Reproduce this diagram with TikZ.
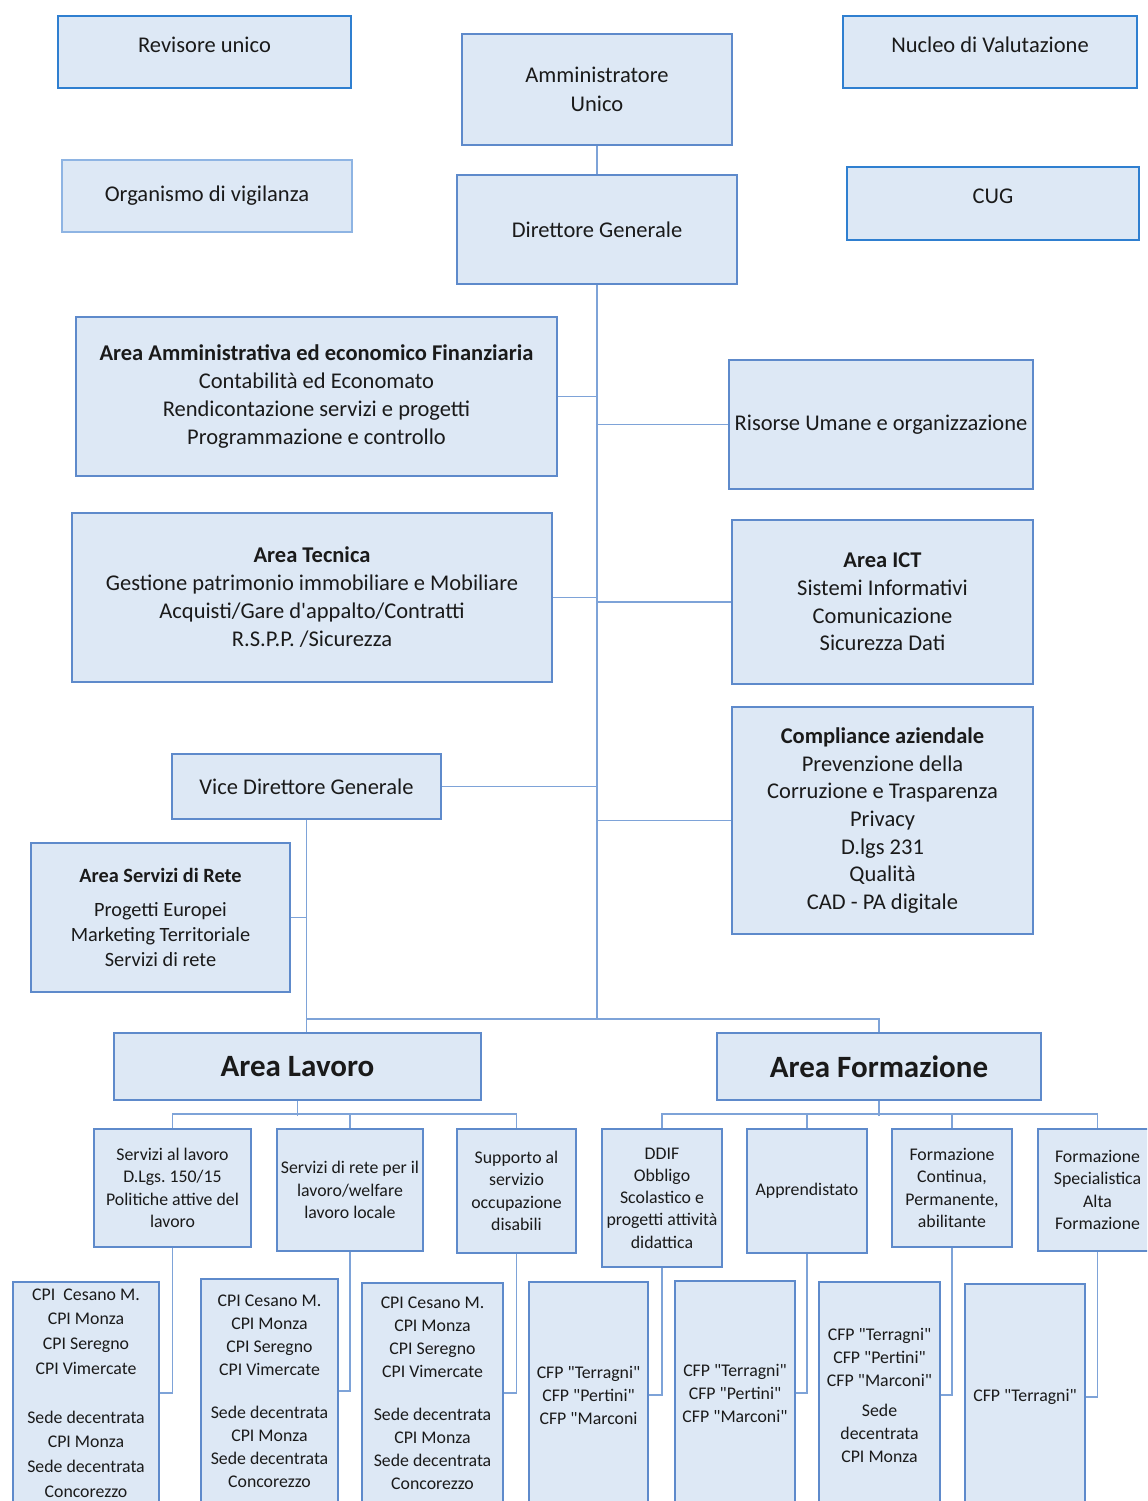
\documentclass[tikz,border=0pt]{standalone}
\usepackage{fontspec}
\setmainfont{Carlito}[Ligatures=TeXOff]
\definecolor{boxfill}{HTML}{DDE8F5}
\definecolor{bord}{HTML}{5E8ACB}
\definecolor{lin}{HTML}{7EA3D8}
\definecolor{bordB}{HTML}{2F7FD0}
\definecolor{bordL}{HTML}{8EB4E3}
\definecolor{txt}{HTML}{1A1A1A}
\newcommand{\fMain}{\fontsize{22.5bp}{28bp}\selectfont}
\newcommand{\fRete}{\fontsize{20.3bp}{25bp}\selectfont}
\newcommand{\fBig}{\fontsize{31bp}{36bp}\selectfont\bfseries}
\newcommand{\fSmall}{\fontsize{17.8bp}{22.3bp}\selectfont}
\newcommand{\fCpiA}{\fontsize{17.8bp}{24.6bp}\selectfont}
\newcommand{\fCpiB}{\fontsize{17.8bp}{23bp}\selectfont}
\tikzset{
  box/.style={draw=bord, fill=boxfill, line width=1.8bp, inner sep=0pt, align=center, text=txt, font=\fMain},
  lbl/.style={inner sep=0pt, align=center, text=txt, font=\fMain},
  conn/.style={draw=lin, line width=1.8bp},
  sz/.style 2 args={minimum width=#1 bp, minimum height=#2 bp},
}
\begin{document}
\frenchspacing
\begin{tikzpicture}[x=1bp, y=-1bp]
\useasboundingbox (0,0) rectangle (1147,1501);
\fill[white] (0,0) rectangle (1147,1501);
\clip (0,0) rectangle (1147,1501);

% top level
\node[box, draw=bordB, sz={293}{72}] (rev) at (204.5,52) {};
\node[lbl] (revt) at (204.5,45) {Revisore unico};
\node[box, draw=bordL, sz={290}{72}] (org) at (207,196) {Organismo di vigilanza};
\node[box, sz={270}{111}, font=\fontsize{22.5bp}{29bp}\selectfont] (amm) at (597,89.5) {Amministratore\\Unico};
\node[box, sz={280}{109}] (dg) at (597,229.5) {Direttore Generale};
\node[box, draw=bordB, sz={294}{72}] (nuc) at (990,52) {};
\node[lbl] (nuct) at (990,45) {Nucleo di Valutazione};
\node[box, draw=bordB, sz={292}{73}] (cug) at (993,203.5) {};
\node[lbl] (cugt) at (993,196) {CUG};

% second level
\node[box, sz={481}{159}] (aaf) at (316.5,396.5) {{\bfseries Area Amministrativa ed economico Finanziaria}\\Contabilità ed Economato\\Rendicontazione servizi e progetti\\Programmazione e controllo};
\node[box, sz={304}{129}] (ris) at (881,424.5) {Risorse Umane e organizzazione};
\node[box, sz={480}{169}] (tec) at (312,597.5) {{\bfseries Area Tecnica}\\Gestione patrimonio immobiliare e Mobiliare\\Acquisti/Gare d'appalto/Contratti\\R.S.P.P. /Sicurezza};
\node[box, sz={301}{164}, font=\fontsize{22.5bp}{27.7bp}\selectfont] (ict) at (882.5,602) {{\bfseries Area ICT}\\Sistemi Informativi\\Comunicazione\\Sicurezza Dati};
\node[box, sz={301}{227}, font=\fontsize{22.5bp}{27.7bp}\selectfont] (comp) at (882.5,820.5) {{\bfseries Compliance aziendale}\\Prevenzione della\\Corruzione e Trasparenza\\Privacy\\D.lgs 231\\Qualità\\CAD - PA digitale};
\node[box, sz={269}{65}] (vdg) at (306.5,786.5) {Vice Direttore Generale};
\node[box, sz={259}{149}, font=\fRete] (asr) at (160.5,917.5) {{\bfseries Area Servizi di Rete}\\[9bp]Progetti Europei\\Marketing Territoriale\\Servizi di rete};
\node[box, sz={367}{67}, font=\fBig] (lav) at (297.5,1066.5) {Area Lavoro};
\node[box, sz={324}{67}, font=\fBig] (form) at (879,1066.5) {Area Formazione};

% third level
\node[box, sz={157}{118}, font=\fSmall] (sl) at (172.5,1188) {Servizi al lavoro\\D.Lgs. 150/15\\Politiche attive del\\lavoro};
\node[box, sz={146}{122}, font=\fSmall] (sr) at (350,1190) {Servizi di rete per il\\lavoro/welfare\\lavoro locale};
\node[box, sz={119}{124}, font=\fSmall] (sup) at (516.5,1191) {Supporto al\\servizio\\occupazione\\disabili};
\node[box, sz={120}{138}, font=\fSmall] (ddif) at (662,1198) {DDIF\\Obbligo\\Scolastico e\\progetti attività\\didattica};
\node[box, sz={120}{124}, font=\fSmall] (app) at (807,1191) {Apprendistato};
\node[box, sz={120}{118}, font=\fSmall] (fc) at (952,1188) {Formazione\\Continua,\\Permanente,\\abilitante};
\node[box, sz={119}{122}, font=\fSmall] (fs) at (1097.5,1190) {Formazione\\Specialistica\\Alta\\Formazione};

% fourth level
\node[box, sz={146}{222}, font=\fCpiA] (c1) at (86,1393) {CPI\ \ Cesano M.\\CPI Monza\\CPI Seregno\\CPI Vimercate\\[24.6bp]Sede decentrata\\CPI Monza\\Sede decentrata\\Concorezzo};
\node[box, sz={137}{224}, font=\fCpiB] (c2) at (269.5,1391) {CPI Cesano M.\\CPI Monza\\CPI Seregno\\CPI Vimercate\\[20bp]Sede decentrata\\CPI Monza\\Sede decentrata\\Concorezzo};
\node[box, sz={141}{220}, font=\fCpiB] (c3) at (432.5,1393) {CPI Cesano M.\\CPI Monza\\CPI Seregno\\CPI Vimercate\\[20bp]Sede decentrata\\CPI Monza\\Sede decentrata\\Concorezzo};
\node[box, sz={119}{226}, font=\fCpiB] (c4) at (588.5,1395) {CFP "Terragni"\\CFP "Pertini"\\CFP "Marconi};
\node[box, sz={120}{224}, font=\fCpiB] (c5) at (735,1393) {CFP "Terragni"\\CFP "Pertini"\\CFP "Marconi"};
\node[box, sz={121}{226}, font=\fCpiB] (c6) at (879.5,1395) {CFP "Terragni"\\CFP "Pertini"\\CFP "Marconi"\\[7bp]Sede\\decentrata\\CPI Monza};
\node[box, sz={120}{226}, font=\fCpiB] (c7) at (1025,1397) {CFP "Terragni"};

% connectors
\coordinate (j) at (597,1019);
\draw[conn] (amm.south) -- (dg.north);
\draw[conn] (dg.south) -- (j);
\draw[conn] (aaf.east) -- (aaf.east -| dg.south);
\draw[conn] (ris.west) -- (ris.west -| dg.south);
\draw[conn] (tec.east) -- (tec.east -| dg.south);
\draw[conn] (ict.west) -- (ict.west -| dg.south);
\draw[conn] (vdg.east) -- (vdg.east -| dg.south);
\draw[conn] (comp.west) -- (comp.west -| dg.south);
\draw[conn] (vdg.south) -- (vdg.south |- lav.north);
\draw[conn] (asr.east) -- (asr.east -| vdg.south);
\draw[conn] (vdg.south |- j) -- (form.north |- j) -- (form.north);

\draw[conn] (lav.south) -- ++(0,15);
\draw[conn] (sl.north) -- ++(0,-14) -| (sup.north);
\draw[conn] (sr.north) -- ++(0,-14);
\draw[conn] (form.south) -- ++(0,15);
\draw[conn] (ddif.north) -- ++(0,-14) -| (fs.north);
\draw[conn] (app.north) -- ++(0,-14);
\draw[conn] (fc.north) -- ++(0,-14);

\draw[conn] (sl.south) |- (c1.east);
\draw[conn] (sr.south) |- (c2.east);
\draw[conn] (sup.south) |- (c3.east);
\draw[conn] (ddif.south) |- (c4.east);
\draw[conn] (app.south) |- (c5.east);
\draw[conn] (fc.south) |- (c6.east);
\draw[conn] (fs.south) |- (c7.east);
\end{tikzpicture}
\end{document}
